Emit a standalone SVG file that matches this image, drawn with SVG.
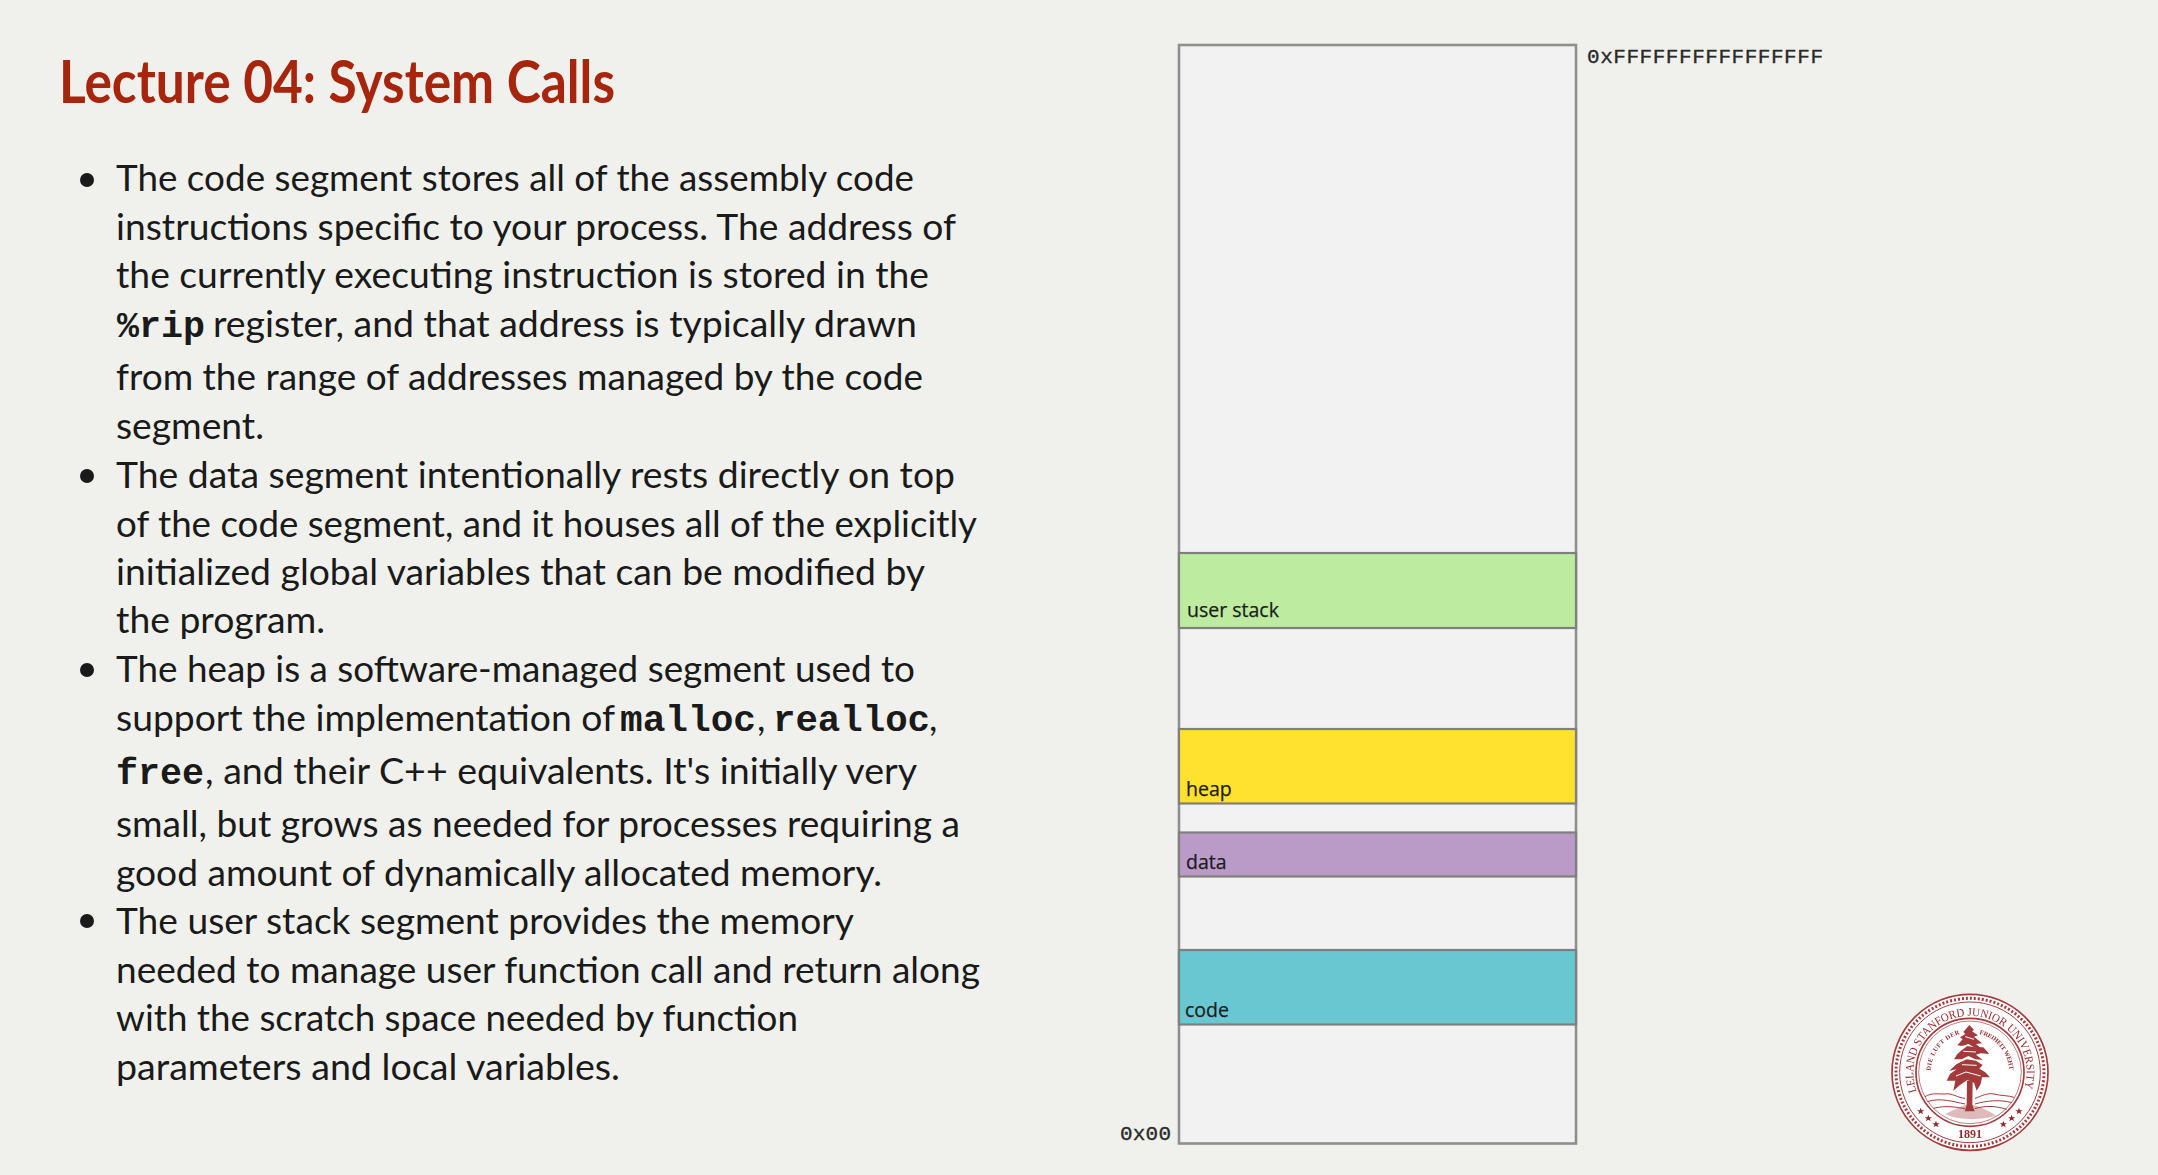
<svg xmlns="http://www.w3.org/2000/svg" width="2158" height="1175" viewBox="0 0 2158 1175">
<style>
.b{font-family:Lato,"Open Sans",sans-serif;font-size:37px;fill:#1a1a1a}
.m{font-family:"Liberation Mono",monospace;font-weight:700;font-size:36.5px;fill:#1a1a1a}
.s{font-family:"Open Sans",sans-serif;font-size:19.5px;fill:#1c1c1c;stroke:#1c1c1c;stroke-width:.25}
.a{font-family:"Liberation Mono",monospace;font-size:21px;fill:#2a2a2a;stroke:#2a2a2a;stroke-width:.35}
.seg{stroke:#7f7f7f;stroke-width:2.2}
.sl{font-family:"Liberation Serif",serif;fill:#96282c}
.sr{fill:none;stroke:#a33a3c}
</style>
<defs>
<path id="arcO" d="M 200 365 A 170 170 0 1 1 520 365"/>
<path id="arcL" d="M 242 302 A 118 118 0 0 1 332 192"/>
<path id="arcR" d="M 388 192 A 118 118 0 0 1 478 302"/>
<polygon id="st" points="0,-11 3,-3.5 11,-3.5 4.6,1.4 7,9 0,4.3 -7,9 -4.6,1.4 -11,-3.5 -3,-3.5"/>
<filter id="soft" x="-5%" y="-5%" width="110%" height="110%"><feGaussianBlur stdDeviation="0.45"/></filter>
</defs>
<rect width="2158" height="1175" fill="#f0f1ec"/>
<g id="title"><text x="59" y="103" textLength="556" lengthAdjust="spacingAndGlyphs" style="font-family:Lato,sans-serif;font-weight:700;font-size:60px;fill:#a6250c">Lecture 04: System Calls</text></g>
<g id="bullets">
<circle cx="87" cy="180" r="7" fill="#1a1a1a"/><circle cx="87" cy="476" r="7" fill="#1a1a1a"/><circle cx="87" cy="670" r="7" fill="#1a1a1a"/><circle cx="87" cy="921" r="7" fill="#1a1a1a"/>
<text class="b" x="116" y="191" textLength="798" lengthAdjust="spacingAndGlyphs">The code segment stores all of the assembly code</text>
<text class="b" x="116" y="240" textLength="840" lengthAdjust="spacingAndGlyphs">instructions specific to your process. The address of</text>
<text class="b" x="116" y="288" textLength="813" lengthAdjust="spacingAndGlyphs">the currently executing instruction is stored in the</text>
<text class="m" x="117" y="337" textLength="88" lengthAdjust="spacingAndGlyphs">%rip</text><text class="b" x="213" y="337" textLength="704" lengthAdjust="spacingAndGlyphs">register, and that address is typically drawn</text>
<text class="b" x="116" y="390" textLength="807" lengthAdjust="spacingAndGlyphs">from the range of addresses managed by the code</text>
<text class="b" x="116" y="439" textLength="148" lengthAdjust="spacingAndGlyphs">segment.</text>
<text class="b" x="116" y="488" textLength="839" lengthAdjust="spacingAndGlyphs">The data segment intentionally rests directly on top</text>
<text class="b" x="116" y="537" textLength="861" lengthAdjust="spacingAndGlyphs">of the code segment, and it houses all of the explicitly</text>
<text class="b" x="116" y="585" textLength="809" lengthAdjust="spacingAndGlyphs">initialized global variables that can be modified by</text>
<text class="b" x="116" y="633" textLength="209" lengthAdjust="spacingAndGlyphs">the program.</text>
<text class="b" x="116" y="682" textLength="799" lengthAdjust="spacingAndGlyphs">The heap is a software-managed segment used to</text>
<text class="b" x="116" y="731" textLength="499" lengthAdjust="spacingAndGlyphs">support the implementation of</text><text class="m" x="620" y="731" textLength="136" lengthAdjust="spacingAndGlyphs">malloc</text><text class="b" x="757" y="731">,</text><text class="m" x="773" y="731" textLength="157" lengthAdjust="spacingAndGlyphs">realloc</text><text class="b" x="929" y="731">,</text>
<text class="m" x="116" y="784" textLength="88" lengthAdjust="spacingAndGlyphs">free</text><text class="b" x="205" y="784" textLength="712" lengthAdjust="spacingAndGlyphs">, and their C++ equivalents. It's initially very</text>
<text class="b" x="116" y="837" textLength="844" lengthAdjust="spacingAndGlyphs">small, but grows as needed for processes requiring a</text>
<text class="b" x="116" y="886" textLength="766" lengthAdjust="spacingAndGlyphs">good amount of dynamically allocated memory.</text>
<text class="b" x="116" y="934" textLength="738" lengthAdjust="spacingAndGlyphs">The user stack segment provides the memory</text>
<text class="b" x="116" y="983" textLength="864" lengthAdjust="spacingAndGlyphs">needed to manage user function call and return along</text>
<text class="b" x="116" y="1031" textLength="682" lengthAdjust="spacingAndGlyphs">with the scratch space needed by function</text>
<text class="b" x="116" y="1080" textLength="504" lengthAdjust="spacingAndGlyphs">parameters and local variables.</text>
</g>
<g id="memory">
<rect x="1179" y="45" width="397" height="1098.5" fill="#f2f2f2" stroke="#8f8f8f" stroke-width="2.6"/>
</g>
<g id="user-stack"><rect class="seg" x="1179" y="553" width="397" height="75" fill="#bdeba0"/><text class="s" x="1187" y="617">user stack</text></g>
<g id="heap"><rect class="seg" x="1179" y="729" width="397" height="74.5" fill="#ffe12e"/><text class="s" x="1186" y="796">heap</text></g>
<g id="data"><rect class="seg" x="1179" y="832.5" width="397" height="44" fill="#ba9ac7"/><text class="s" x="1186" y="869">data</text></g>
<g id="code"><rect class="seg" x="1179" y="950" width="397" height="74.5" fill="#68c7d0"/><text class="s" x="1185" y="1016.5">code</text></g>
<g id="addresses">
<text class="a" x="1587" y="63" textLength="236">0xFFFFFFFFFFFFFFFF</text>
<text class="a" x="1120" y="1140" textLength="51">0x00</text>
</g>
<g id="connectors"/>
<g id="seal" transform="translate(1850 970) scale(.33333)" filter="url(#soft)">
<circle cx="360" cy="307" r="234" fill="#fff" stroke="#a33a3c" stroke-width="5"/>
<circle class="sr" cx="360" cy="307" r="222" stroke-width="9" stroke-dasharray="6 6"/>
<circle class="sr" cx="360" cy="307" r="211" stroke-width="3"/>
<circle class="sr" cx="360" cy="307" r="162" stroke-width="5"/>
<circle class="sr" cx="360" cy="307" r="154" stroke-width="2"/>
<text class="sl" font-size="35" textLength="640" lengthAdjust="spacingAndGlyphs"><textPath href="#arcO">LELAND STANFORD JUNIOR UNIVERSITY</textPath></text>
<text class="sl" font-size="19" font-weight="700" textLength="150"><textPath href="#arcL">DIE LUFT DER</textPath></text>
<text class="sl" font-size="19" font-weight="700" textLength="150"><textPath href="#arcR">FREIHEIT WEHT</textPath></text>
<text class="sl" font-size="36" font-weight="700" x="360" y="505" text-anchor="middle">1891</text>
<g fill="#96282c"><use href="#st" x="212" y="424"/><use href="#st" x="235" y="445"/><use href="#st" x="258" y="463"/><use href="#st" x="460" y="463"/><use href="#st" x="485" y="445"/><use href="#st" x="507" y="424"/></g>
<g id="hills">
<path class="sr" stroke-width="3" d="M225 380 C245 368 262 372 285 372 C305 368 325 384 345 385 M375 385 C395 378 412 368 432 372 C455 378 475 376 492 382 M232 395 C270 382 310 395 345 402 M375 402 C410 392 450 388 486 398 M250 415 C290 405 320 412 345 416 M375 416 C405 406 440 408 470 418"/>
<path d="M285 432 C315 418 335 408 350 404 L368 404 C390 410 415 422 438 436 C400 452 325 452 285 432 Z" fill="#a33a3c" opacity=".35"/>
</g>
<g id="tree" fill="#a33a3c">
<path d="M351 332 L368 332 L367 404 L374 424 L344 424 L350 404 Z"/>
<path d="M358 165 L372 180 L366 184 L384 196 L372 200 L396 220 L378 222 L392 234 L376 234 L355 222 L336 228 L322 226 L338 208 L330 202 L346 192 L340 186 Z"/>
<path d="M352 228 L375 232 L400 232 L418 252 L392 250 L378 254 L398 270 L376 268 L355 258 L335 268 L312 268 L322 252 L336 240 Z"/>
<path d="M350 268 L378 272 L398 285 L388 296 L405 306 L420 322 L396 322 L392 342 L380 362 L372 338 L352 330 L330 345 L310 362 L316 332 L290 332 L300 312 L320 298 L298 302 L320 282 Z"/>
<path d="M346 200 L372 208 M340 244 L378 246 M318 318 L348 306 L392 318 M336 284 L380 286" stroke="#fff" stroke-width="3" fill="none"/>
</g>
</g>
</svg>
